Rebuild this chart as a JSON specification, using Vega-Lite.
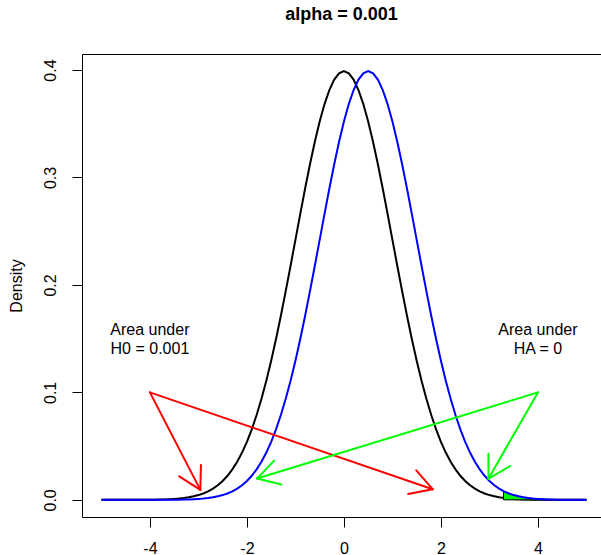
{
"$schema": "https://vega.github.io/schema/vega-lite/v6.json",
"width": 519, "height": 463,
"autosize": "none",
"padding": {"left": 82, "top": 54, "right": 0, "bottom": 38},
"background": "white",
"title": {"text": "alpha = 0.001", "fontSize": 18, "fontWeight": "bold", "font": "Liberation Sans", "anchor": "middle", "baseline": "alphabetic", "offset": 16, "color": "#000"},
"config": {
  "view": {"stroke": "#000", "strokeWidth": 1},
  "axis": {"grid": false, "domain": false, "tickColor": "#000", "tickSize": 10, "tickWidth": 1, "labelFont": "Liberation Sans", "labelFontSize": 16, "labelColor": "#000", "titleFont": "Liberation Sans", "titleFontSize": 16, "titleColor": "#000", "titleFontWeight": "normal"}
},
"datasets": {
"curves": [
{"x":-5.0,"h0":0.0000015,"ha":0},{"x":-4.9,"h0":0.0000024,"ha":0},{"x":-4.8,"h0":0.000004,"ha":0},{"x":-4.7,"h0":0.0000064,"ha":0},{"x":-4.6,"h0":0.0000101,"ha":0},
{"x":-4.5,"h0":0.000016,"ha":0.0000015},{"x":-4.4,"h0":0.000025,"ha":0.0000024},{"x":-4.3,"h0":0.000039,"ha":0.000004},{"x":-4.2,"h0":0.000059,"ha":0.0000064},{"x":-4.1,"h0":0.000089,"ha":0.0000101},
{"x":-4.0,"h0":0.000134,"ha":0.000016},{"x":-3.9,"h0":0.000199,"ha":0.000025},{"x":-3.8,"h0":0.000292,"ha":0.000039},{"x":-3.7,"h0":0.000425,"ha":0.000059},{"x":-3.6,"h0":0.000612,"ha":0.000089},
{"x":-3.5,"h0":0.000873,"ha":0.000134},{"x":-3.4,"h0":0.001232,"ha":0.000199},{"x":-3.3,"h0":0.001723,"ha":0.000292},{"x":-3.2,"h0":0.002384,"ha":0.000425},{"x":-3.1,"h0":0.003267,"ha":0.000612},
{"x":-3.0,"h0":0.004432,"ha":0.000873},{"x":-2.9,"h0":0.005953,"ha":0.001232},{"x":-2.8,"h0":0.007915,"ha":0.001723},{"x":-2.7,"h0":0.010421,"ha":0.002384},{"x":-2.6,"h0":0.013583,"ha":0.003267},
{"x":-2.5,"h0":0.017528,"ha":0.004432},{"x":-2.4,"h0":0.022395,"ha":0.005953},{"x":-2.3,"h0":0.028327,"ha":0.007915},{"x":-2.2,"h0":0.035475,"ha":0.010421},{"x":-2.1,"h0":0.043984,"ha":0.013583},
{"x":-2.0,"h0":0.053991,"ha":0.017528},{"x":-1.9,"h0":0.065616,"ha":0.022395},{"x":-1.8,"h0":0.07895,"ha":0.028327},{"x":-1.7,"h0":0.094049,"ha":0.035475},{"x":-1.6,"h0":0.110921,"ha":0.043984},
{"x":-1.5,"h0":0.129518,"ha":0.053991},{"x":-1.4,"h0":0.149727,"ha":0.065616},{"x":-1.3,"h0":0.171369,"ha":0.07895},{"x":-1.2,"h0":0.194186,"ha":0.094049},{"x":-1.1,"h0":0.217852,"ha":0.110921},
{"x":-1.0,"h0":0.241971,"ha":0.129518},{"x":-0.9,"h0":0.266085,"ha":0.149727},{"x":-0.8,"h0":0.289692,"ha":0.171369},{"x":-0.7,"h0":0.312254,"ha":0.194186},{"x":-0.6,"h0":0.333225,"ha":0.217852},
{"x":-0.5,"h0":0.352065,"ha":0.241971},{"x":-0.4,"h0":0.36827,"ha":0.266085},{"x":-0.3,"h0":0.381388,"ha":0.289692},{"x":-0.2,"h0":0.391043,"ha":0.312254},{"x":-0.1,"h0":0.396953,"ha":0.333225},
{"x":0.0,"h0":0.398942,"ha":0.352065},{"x":0.1,"h0":0.396953,"ha":0.36827},{"x":0.2,"h0":0.391043,"ha":0.381388},{"x":0.3,"h0":0.381388,"ha":0.391043},{"x":0.4,"h0":0.36827,"ha":0.396953},
{"x":0.5,"h0":0.352065,"ha":0.398942},{"x":0.6,"h0":0.333225,"ha":0.396953},{"x":0.7,"h0":0.312254,"ha":0.391043},{"x":0.8,"h0":0.289692,"ha":0.381388},{"x":0.9,"h0":0.266085,"ha":0.36827},
{"x":1.0,"h0":0.241971,"ha":0.352065},{"x":1.1,"h0":0.217852,"ha":0.333225},{"x":1.2,"h0":0.194186,"ha":0.312254},{"x":1.3,"h0":0.171369,"ha":0.289692},{"x":1.4,"h0":0.149727,"ha":0.266085},
{"x":1.5,"h0":0.129518,"ha":0.241971},{"x":1.6,"h0":0.110921,"ha":0.217852},{"x":1.7,"h0":0.094049,"ha":0.194186},{"x":1.8,"h0":0.07895,"ha":0.171369},{"x":1.9,"h0":0.065616,"ha":0.149727},
{"x":2.0,"h0":0.053991,"ha":0.129518},{"x":2.1,"h0":0.043984,"ha":0.110921},{"x":2.2,"h0":0.035475,"ha":0.094049},{"x":2.3,"h0":0.028327,"ha":0.07895},{"x":2.4,"h0":0.022395,"ha":0.065616},
{"x":2.5,"h0":0.017528,"ha":0.053991},{"x":2.6,"h0":0.013583,"ha":0.043984},{"x":2.7,"h0":0.010421,"ha":0.035475},{"x":2.8,"h0":0.007915,"ha":0.028327},{"x":2.9,"h0":0.005953,"ha":0.022395},
{"x":3.0,"h0":0.004432,"ha":0.017528},{"x":3.1,"h0":0.003267,"ha":0.013583},{"x":3.2,"h0":0.002384,"ha":0.010421},{"x":3.3,"h0":0.001723,"ha":0.007915},{"x":3.4,"h0":0.001232,"ha":0.005953},
{"x":3.5,"h0":0.000873,"ha":0.004432},{"x":3.6,"h0":0.000612,"ha":0.003267},{"x":3.7,"h0":0.000425,"ha":0.002384},{"x":3.8,"h0":0.000292,"ha":0.001723},{"x":3.9,"h0":0.000199,"ha":0.001232},
{"x":4.0,"h0":0.000134,"ha":0.000873},{"x":4.1,"h0":0.000089,"ha":0.000612},{"x":4.2,"h0":0.000059,"ha":0.000425},{"x":4.3,"h0":0.000039,"ha":0.000292},{"x":4.4,"h0":0.000025,"ha":0.000199},
{"x":4.5,"h0":0.000016,"ha":0.000134},{"x":4.6,"h0":0.0000101,"ha":0.000089},{"x":4.7,"h0":0.0000064,"ha":0.000059},{"x":4.8,"h0":0.000004,"ha":0.000039},{"x":4.9,"h0":0.0000024,"ha":0.000025},
{"x":5.0,"h0":0.0000015,"ha":0.000016}
],
"tail": [
{"x":3.29,"y":0.008139},{"x":3.3,"y":0.007915},{"x":3.4,"y":0.005953},{"x":3.5,"y":0.004432},{"x":3.6,"y":0.003267},{"x":3.7,"y":0.002384},{"x":3.8,"y":0.001723},{"x":3.9,"y":0.001232},{"x":4.0,"y":0.000873},{"x":4.2,"y":0.000425},{"x":4.4,"y":0.000199},{"x":4.6,"y":0.000089},{"x":4.8,"y":0.000039},{"x":5.0,"y":0.000016}
],
"arrows": [
{"h":"H0","x":-4,"y":0.1,"x2":-2.96,"y2":0.0093},
{"h":"H0","x":-2.96,"y":0.0093,"x2":-2.948,"y2":0.0325},
{"h":"H0","x":-2.96,"y":0.0093,"x2":-3.396,"y2":0.0218},
{"h":"H0","x":-4,"y":0.1,"x2":1.83,"y2":0.0099},
{"h":"H0","x":1.83,"y":0.0099,"x2":1.491,"y2":0.0275},
{"h":"H0","x":1.83,"y":0.0099,"x2":1.324,"y2":0.0055},
{"h":"HA","x":4,"y":0.1,"x2":2.98,"y2":0.0197},
{"h":"HA","x":2.98,"y":0.0197,"x2":3.429,"y2":0.0315},
{"h":"HA","x":2.98,"y":0.0197,"x2":2.979,"y2":0.043},
{"h":"HA","x":4,"y":0.1,"x2":-1.79,"y2":0.0198},
{"h":"HA","x":-1.79,"y":0.0198,"x2":-1.44,"y2":0.0365},
{"h":"HA","x":-1.79,"y":0.0198,"x2":-1.29,"y2":0.0143}
],
"notes": [
{"x":-4,"y":0.15,"label":"Area under\nH0 = 0.001"},
{"x":4,"y":0.15,"label":"Area under\nHA = 0"}
]
},
"layer": [
{
 "data": {"name": "curves"},
 "mark": {"type": "line", "color": "#000", "strokeWidth": 2},
 "encoding": {
  "x": {"field": "x", "type": "quantitative", "title": null, "scale": {"domain": [-5.4, 5.3], "nice": false, "zero": false},
        "axis": {"values": [-4,-2,0,2,4], "labelExpr": "toString(datum.value)", "title": null, "labelBaseline": "alphabetic", "labelPadding": 26, "labelFlush": false}},
  "y": {"field": "h0", "type": "quantitative", "title": "Density", "scale": {"domain": [-0.01596, 0.41489], "nice": false, "zero": false},
        "axis": {"values": [0,0.1,0.2,0.3,0.4], "format": ".1f", "labelAngle": -90, "labelAlign": "center", "labelBaseline": "alphabetic", "labelPadding": 17, "labelFlush": false, "title": "Density", "titleAngle": -90, "titleAlign": "center", "titleBaseline": "alphabetic", "titleX": -61, "titleY": 231.5}}
 }
},
{
 "data": {"name": "tail"},
 "mark": {"type": "area", "color": "#00ff00", "stroke": "#000", "strokeWidth": 1, "opacity": 1},
 "encoding": {
  "x": {"field": "x", "type": "quantitative", "title": null, "scale": {"domain": [-5.4, 5.3], "nice": false, "zero": false}},
  "y": {"field": "y", "type": "quantitative", "title": "Density", "scale": {"domain": [-0.01596, 0.41489], "nice": false, "zero": false}},
  "y2": {"datum": 0}
 }
},
{
 "data": {"name": "curves"},
 "mark": {"type": "line", "color": "#0000ff", "strokeWidth": 2},
 "encoding": {
  "x": {"field": "x", "type": "quantitative", "title": null, "scale": {"domain": [-5.4, 5.3], "nice": false, "zero": false}},
  "y": {"field": "ha", "type": "quantitative", "title": "Density", "scale": {"domain": [-0.01596, 0.41489], "nice": false, "zero": false}}
 }
},
{
 "data": {"name": "notes"},
 "mark": {"type": "text", "font": "Liberation Sans", "fontSize": 16, "color": "#000", "align": "center", "baseline": "middle", "lineBreak": "\n", "lineHeight": 19, "dy": -9},
 "encoding": {
  "x": {"field": "x", "type": "quantitative", "title": null, "scale": {"domain": [-5.4, 5.3], "nice": false, "zero": false}},
  "y": {"field": "y", "type": "quantitative", "title": "Density", "scale": {"domain": [-0.01596, 0.41489], "nice": false, "zero": false}},
  "text": {"field": "label", "type": "nominal"}
 }
},
{
 "data": {"name": "arrows"},
 "mark": {"type": "rule", "strokeWidth": 2, "strokeCap": "round"},
 "encoding": {
  "x": {"field": "x", "type": "quantitative", "title": null, "scale": {"domain": [-5.4, 5.3], "nice": false, "zero": false}},
  "y": {"field": "y", "type": "quantitative", "title": "Density", "scale": {"domain": [-0.01596, 0.41489], "nice": false, "zero": false}},
  "x2": {"field": "x2"},
  "y2": {"field": "y2"},
  "color": {"field": "h", "type": "nominal", "scale": {"domain": ["H0","HA"], "range": ["#ff0000","#00ff00"]}, "legend": null}
 }
}
]
}
